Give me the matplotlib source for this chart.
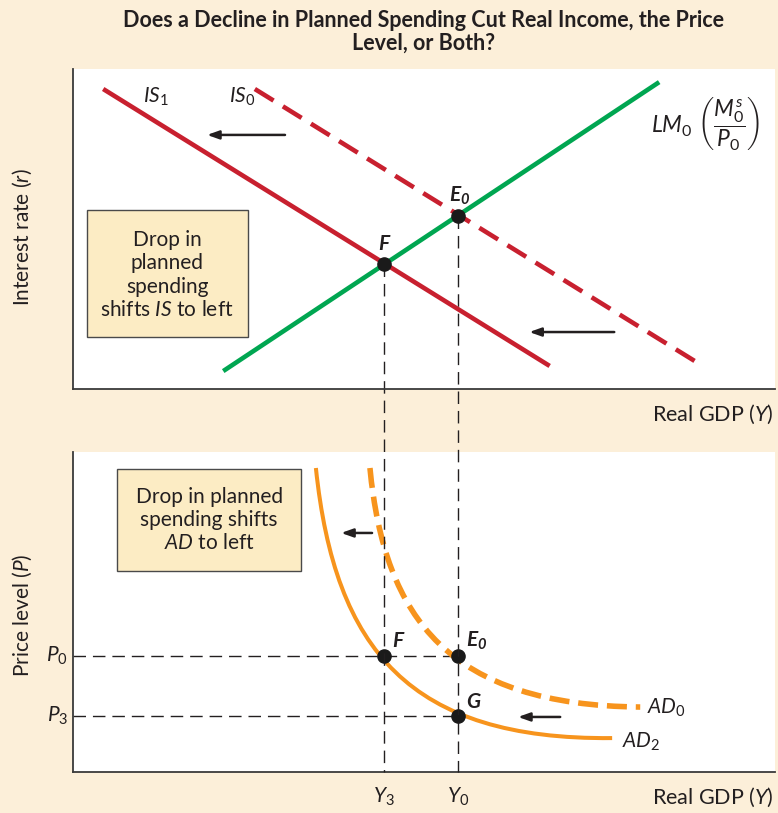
import matplotlib
matplotlib.use("Agg")
import matplotlib.pyplot as plt
from matplotlib.path import Path
from matplotlib.patches import PathPatch, Rectangle
from matplotlib import font_manager

# ---------------- data (axis units 0..100) ----------------
is1_x = [4.3, 67.9]
is1_y = [93.75, 7.2]
is0_x = [25.9, 89.7]
is0_y = [93.75, 7.2]
lm_x = [21.4, 83.5]
lm_y = [5.6, 95.9]
Y3, Y0 = 44.3, 54.8
r_F, r_E0 = 39.1, 54.1
P0, P3 = 36.25, 17.5
ad2_ctrl_x = [34.6, 37.3, 48.0, 76.8]
ad2_ctrl_y = [95.0, 38.1, 10.0, 10.6]
ad0_ctrl_x = [42.3, 44.4, 53.7, 80.8]
ad0_ctrl_y = [95.0, 47.5, 20.9, 20.3]

title = "Does a Decline in Planned Spending Cut Real Income, the Price\nLevel, or Both?"

# ---------------- style ----------------
BG = "#fcefd9"
BOX = "#fcecc4"
INK = "#231f20"
RED = "#c8202f"
GREEN = "#00a651"
ORANGE = "#f7941d"

names = {f.name for f in font_manager.fontManager.ttflist}
body = "Lato" if "Lato" in names else "DejaVu Sans"
title_font = "Liberation Sans Narrow" if "Liberation Sans Narrow" in names else body

plt.rcParams["font.family"] = [body, "DejaVu Sans"]
plt.rcParams["mathtext.fontset"] = "custom"
plt.rcParams["mathtext.rm"] = body
plt.rcParams["mathtext.it"] = body + ":italic"
plt.rcParams["mathtext.bf"] = body + ":italic:bold"
plt.rcParams["text.color"] = INK

W, H = 778, 813
fig = plt.figure(figsize=(W / 100, H / 100), dpi=100, facecolor=BG)

def fax(l, t, r, b):
    return [l / W, 1 - b / H, (r - l) / W, (b - t) / H]

ax1 = fig.add_axes(fax(73, 69, 775, 389), zorder=2)
ax2 = fig.add_axes(fax(73, 452, 775, 772), zorder=1)
for ax in (ax1, ax2):
    ax.set_xlim(0, 100)
    ax.set_ylim(0, 100)
    ax.set_facecolor("white")
    for s in ("top", "right"):
        ax.spines[s].set_visible(False)
    for s in ("left", "bottom"):
        ax.spines[s].set_color("#3a3a3a")
        ax.spines[s].set_linewidth(1.3)
    ax.set_xticks([])
    ax.set_yticks([])

FS = 15

# ---------------- title & axis labels ----------------
fig.text(424 / W, 1 - 10 / H, title, ha="center", va="top", fontsize=15.5,
         fontweight="bold", family=[title_font, "DejaVu Sans"], linespacing=1.12)
fig.text(22 / W, 1 - 237 / H, r"Interest rate ($r$)", rotation=90, ha="center",
         va="center", fontsize=FS)
fig.text(22 / W, 1 - 615 / H, r"Price level ($P$)", rotation=90, ha="center",
         va="center", fontsize=FS)
fig.text(774 / W, 1 - 414 / H, r"Real GDP ($Y$)", ha="right", va="center", fontsize=15.5)
fig.text(774 / W, 1 - 797 / H, r"Real GDP ($Y$)", ha="right", va="center", fontsize=15.5)

# ---------------- top panel ----------------
ax1.plot(is1_x, is1_y, color=RED, lw=3.3, solid_capstyle="butt", zorder=3)
ax1.plot(is0_x, is0_y, color=RED, lw=3.3, ls=(0, (4.8, 2.4)), zorder=3)
ax1.plot(lm_x, lm_y, color=GREEN, lw=3.3, solid_capstyle="butt", zorder=4)

# guide lines running down through both panels
bottom_u = (389 - 772) / 3.2
for yv, yt in ((Y3, r_F), (Y0, r_E0)):
    ax1.plot([yv, yv], [yt, bottom_u], color=INK, lw=1.0, ls=(0, (9, 5)),
             clip_on=False, zorder=2)

ax1.plot([Y3, Y0], [r_F, r_E0], "o", color="#1a1a1a", ms=9.5, zorder=6)

ax1.text(10.0, 91.3, r"$IS_1$", fontsize=FS, va="center", ha="left")
ax1.text(22.2, 91.3, r"$IS_0$", fontsize=FS, va="center", ha="left")
ax1.text(82.4, 83.1, r"$LM_0\ \left(\dfrac{M^s_0}{P_0}\right)$", fontsize=16.5,
         va="center", ha="left")
ax1.text(44.4, 45.3, r"$\mathbf{F}$", fontsize=FS, ha="center", va="center")
ax1.text(55.1, 60.3, r"$\mathbf{E_0}$", fontsize=FS, ha="center", va="center")

arrow = dict(arrowstyle="-|>,head_length=0.7,head_width=0.25", color=INK, lw=1.8,
             shrinkA=0, shrinkB=0)
ax1.annotate("", xy=(19.1, 79.4), xytext=(30.2, 79.4), arrowprops=arrow)
ax1.annotate("", xy=(65.0, 17.8), xytext=(77.1, 17.8), arrowprops=arrow)

ax1.add_patch(Rectangle((2.0, 16.25), 22.9, 39.65, facecolor=BOX, edgecolor="#4a4a4a",
                        lw=1.0, zorder=5))
ax1.text(13.4, 35.6, "Drop in\nplanned\nspending\nshifts $IS$ to left", fontsize=FS,
         ha="center", va="center", linespacing=1.2, zorder=6)

# ---------------- bottom panel ----------------
codes = [Path.MOVETO, Path.CURVE4, Path.CURVE4, Path.CURVE4]
ad2_path = Path(list(zip(ad2_ctrl_x, ad2_ctrl_y)), codes)
ad0_path = Path(list(zip(ad0_ctrl_x, ad0_ctrl_y)), codes)
ax2.add_patch(PathPatch(ad2_path, fill=False, edgecolor=ORANGE, lw=2.9,
                        capstyle="butt", zorder=3))
ax2.add_patch(PathPatch(ad0_path, fill=False, edgecolor=ORANGE, lw=4.0,
                        ls=(0, (3.6, 1.6)), capstyle="butt", zorder=3))

for pv in (P0, P3):
    ax2.plot([0, Y0], [pv, pv], color=INK, lw=1.0, ls=(0, (9, 5)), zorder=2)

ax2.plot([Y3, Y0, Y0], [P0, P0, P3], "o", color="#1a1a1a", ms=9.5, zorder=6)

ax2.text(45.4, 40.9, r"$\mathbf{F}$", fontsize=FS, ha="left", va="center")
ax2.text(56.0, 40.9, r"$\mathbf{E_0}$", fontsize=FS, ha="left", va="center")
ax2.text(56.0, 21.9, r"$\mathbf{G}$", fontsize=FS, ha="left", va="center")
ax2.text(81.8, 20.0, r"$AD_0$", fontsize=FS, ha="left", va="center")
ax2.text(78.2, 9.4, r"$AD_2$", fontsize=FS, ha="left", va="center")

ax2.text(-0.7, P0, r"$P_0$", fontsize=FS, ha="right", va="center", clip_on=False)
ax2.text(-0.7, P3, r"$P_3$", fontsize=FS, ha="right", va="center", clip_on=False)
ax2.text(Y3, -7.8, r"$Y_3$", fontsize=FS, ha="center", va="center", clip_on=False)
ax2.text(Y0, -7.8, r"$Y_0$", fontsize=FS, ha="center", va="center", clip_on=False)

ax2.annotate("", xy=(63.4, 17.2), xytext=(69.4, 17.2), arrowprops=arrow)
ax2.annotate("", xy=(38.2, 74.7), xytext=(42.6, 74.7), arrowprops=arrow)

ax2.add_patch(Rectangle((6.3, 62.8), 26.2, 31.9, facecolor=BOX, edgecolor="#4a4a4a",
                        lw=1.0, zorder=5))
ax2.text(19.4, 78.75, "Drop in planned\nspending shifts\n$AD$ to left", fontsize=FS,
         ha="center", va="center", linespacing=1.2, zorder=6)

fig.savefig("out.png", dpi=100, facecolor=BG)
